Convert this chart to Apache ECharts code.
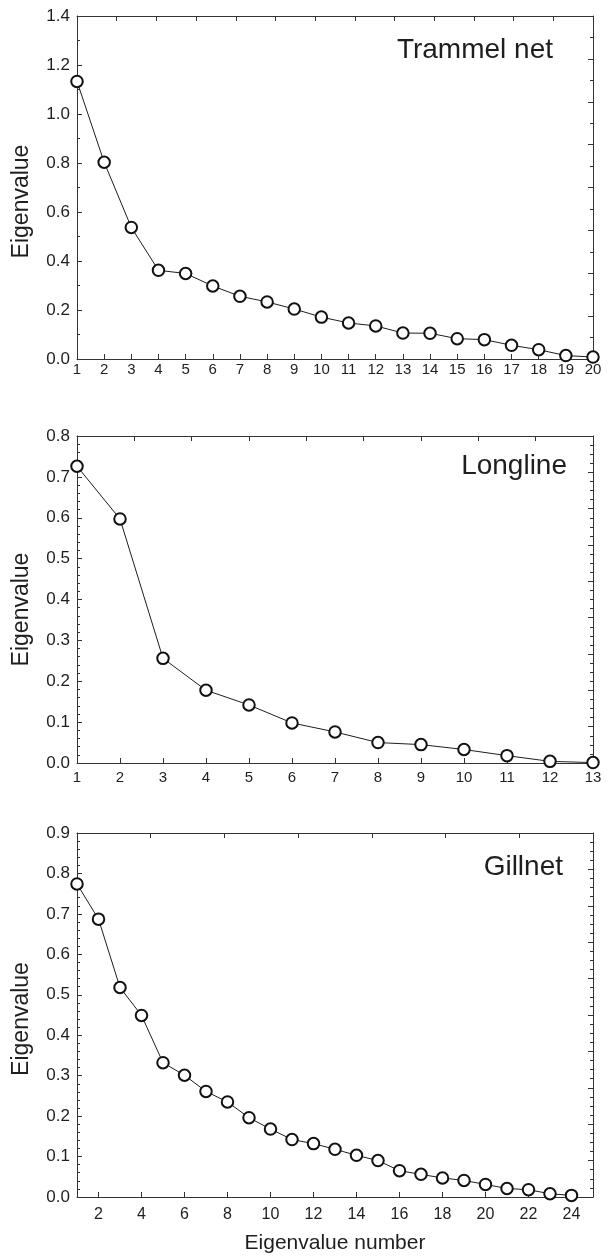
<!DOCTYPE html>
<html>
<head>
<meta charset="utf-8">
<script src="https://cdn.jsdelivr.net/npm/echarts@6/dist/echarts.min.js"></script>
<style>
html,body{margin:0;padding:0;background:#fff;}
#chart{width:608px;height:1258px;}
</style>
</head>
<body>
<div id="chart"></div>
<script>
// ---- data ----
const panelNames = ['Trammel net', 'Longline', 'Gillnet'];
const trammelX = [1,2,3,4,5,6,7,8,9,10,11,12,13,14,15,16,17,18,19,20];
const trammelValues = [1.133,0.803,0.537,0.362,0.349,0.298,0.256,0.233,0.204,0.171,0.147,0.135,0.106,0.105,0.083,0.079,0.056,0.038,0.014,0.008];
const longlineX = [1,2,3,4,5,6,7,8,9,10,11,12,13];
const longlineValues = [0.726,0.597,0.256,0.178,0.142,0.098,0.076,0.050,0.045,0.033,0.018,0.004,0.001];
const gillnetX = [1,2,3,4,5,6,7,8,9,10,11,12,13,14,15,16,17,18,19,20,21,22,23,24];
const gillnetValues = [0.774,0.687,0.518,0.449,0.332,0.301,0.261,0.235,0.196,0.168,0.142,0.132,0.118,0.103,0.090,0.065,0.056,0.047,0.041,0.031,0.021,0.018,0.008,0.004];
const gillnetXTicks = [2,4,6,8,10,12,14,16,18,20,22,24];
const yTicksTrammel = [0,0.2,0.4,0.6,0.8,1.0,1.2,1.4];
const yTicksLongline = [0,0.1,0.2,0.3,0.4,0.5,0.6,0.7,0.8];
const yTicksGillnet = [0,0.1,0.2,0.3,0.4,0.5,0.6,0.7,0.8,0.9];
const yAxisTitle = 'Eigenvalue';
const xAxisTitle = 'Eigenvalue number';

// ---- layout / style ----
const FONT = '"Liberation Sans", Arial, sans-serif';
const INK = '#1e1e1e';
const AX = '#333';
const panels = [
  {x: trammelX, y: trammelValues, xmin: 1, xmax: 20, yTicks: yTicksTrammel, yInt: 0.2,
   top: 16, height: 343, xLabelMargin: 3, xLabelSize: 15, leftMinor: 2, topDiv: 13, rightDiv: 8, rightMinor: 2,
   labelY: 50, labelX: 553, nameShift: 28},
  {x: longlineX, y: longlineValues, xmin: 1, xmax: 13, yTicks: yTicksLongline, yInt: 0.1,
   top: 436, height: 327, xLabelMargin: 7, xLabelSize: 15, leftMinor: 5, topDiv: 9, rightDiv: 9, rightMinor: 4,
   labelY: 466, labelX: 567, nameShift: 20},
  {x: gillnetX, y: gillnetValues, xmin: 1, xmax: 25, yTicks: yTicksGillnet, yInt: 0.1, xCustom: gillnetXTicks,
   top: 833, height: 364, xLabelMargin: 10, xLabelSize: 16, leftMinor: 5, topDiv: 7, rightDiv: 10, rightMinor: 4,
   labelY: 867, labelX: 563, xTitle: xAxisTitle, nameShift: 8}
];

const grids = [], xAxes = [], yAxes = [], series = [], graphics = [];
const axisLine = {show: true, onZero: false, lineStyle: {color: AX, width: 1}};
panels.forEach((p, i) => {
  grids.push({left: 77, right: 15, top: p.top, height: p.height, containLabel: false});
  const yMax = p.yTicks[p.yTicks.length - 1];
  const bx = {
    type: 'value', gridIndex: i, position: 'bottom', min: p.xmin, max: p.xmax, interval: 1,
    axisLine: axisLine, splitLine: {show: false},
    axisTick: {show: true, inside: true, length: 5, lineStyle: {color: AX}},
    axisLabel: {show: true, color: INK, fontFamily: FONT, fontSize: p.xLabelSize, margin: p.xLabelMargin,
      showMinLabel: true, showMaxLabel: true}
  };
  if (p.xCustom) {
    bx.axisTick.customValues = p.xCustom;
    bx.axisLabel.customValues = p.xCustom;
  }
  if (p.xTitle) {
    bx.name = p.xTitle; bx.nameLocation = 'middle'; bx.nameGap = 36;
    bx.nameTextStyle = {color: INK, fontFamily: FONT, fontSize: 21};
  }
  xAxes.push(bx);
  xAxes.push({
    type: 'value', gridIndex: i, position: 'top', min: 0, max: p.topDiv, interval: 1,
    axisLine: axisLine, splitLine: {show: false}, axisLabel: {show: false},
    axisTick: {show: true, inside: true, length: 5, lineStyle: {color: AX}}
  });
  yAxes.push({
    type: 'value', gridIndex: i, position: 'left', min: 0, max: yMax, interval: p.yInt,
    name: yAxisTitle, nameLocation: 'middle', nameGap: 44,
    nameTextStyle: {color: INK, fontFamily: FONT, fontSize: 23, padding: [0, p.nameShift, 0, 0]},
    axisLine: axisLine, splitLine: {show: false},
    axisTick: {show: true, inside: true, length: 5, lineStyle: {color: AX}},
    minorTick: {show: true, splitNumber: p.leftMinor, length: 3, lineStyle: {color: AX}},
    axisLabel: {color: INK, fontFamily: FONT, fontSize: 17, margin: 7,
      formatter: v => (Math.round(v * 10) / 10).toFixed(1)}
  });
  yAxes.push({
    type: 'value', gridIndex: i, position: 'right', min: 0, max: p.rightDiv, interval: 1,
    axisLine: axisLine, splitLine: {show: false}, axisLabel: {show: false},
    axisTick: {show: true, inside: true, length: 5, lineStyle: {color: AX}},
    minorTick: {show: true, splitNumber: p.rightMinor, length: 3, lineStyle: {color: AX}}
  });
  series.push({
    type: 'line', xAxisIndex: 2 * i, yAxisIndex: 2 * i,
    data: p.x.map((xv, k) => [xv, p.y[k]]),
    symbol: 'circle', symbolSize: 11.5, clip: false,
    lineStyle: {color: INK, width: 1},
    itemStyle: {color: '#fff', borderColor: '#111', borderWidth: 2},
    emphasis: {disabled: true}, animation: false, z: 3
  });
  graphics.push({
    type: 'text', x: p.labelX, y: p.labelY,
    style: {text: panelNames[i], fill: INK, font: '28px ' + FONT, textAlign: 'right', textVerticalAlign: 'middle'}
  });
});

const chart = echarts.init(document.getElementById('chart'), null, {renderer: 'canvas'});
chart.setOption({
  animation: false,
  backgroundColor: '#fff',
  grid: grids, xAxis: xAxes, yAxis: yAxes, series: series,
  graphic: graphics
});
</script>
</body>
</html>
